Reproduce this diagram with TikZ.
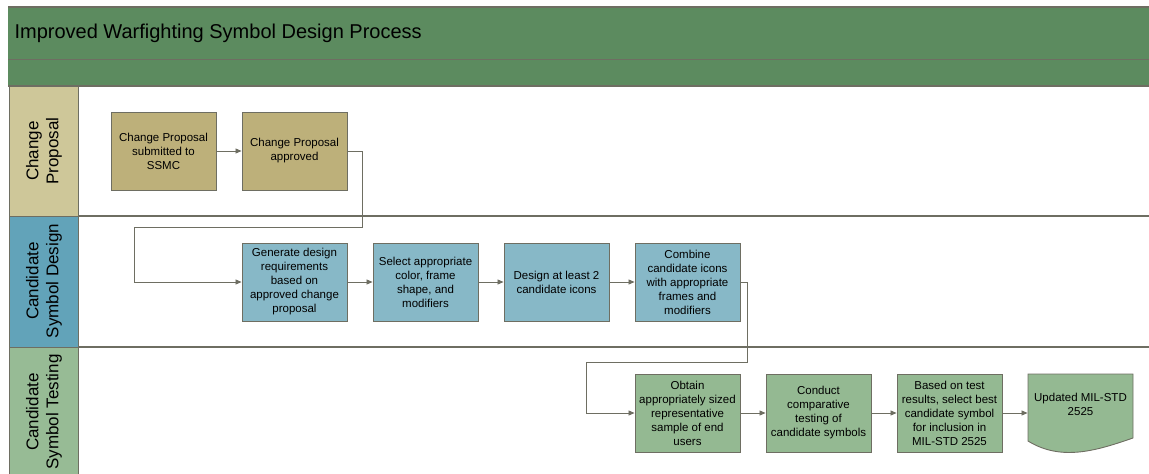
\documentclass[tikz,border=0pt]{standalone}
\usepackage{fontspec}
\setmainfont{Liberation Sans}
\usetikzlibrary{arrows.meta}

\definecolor{hdrgreen}{HTML}{5C8B5F}
\definecolor{lanetan}{HTML}{CEC799}
\definecolor{boxtan}{HTML}{BDB07A}
\definecolor{laneblue}{HTML}{62A3B9}
\definecolor{boxblue}{HTML}{87B8C7}
\definecolor{lanegreen}{HTML}{97BB95}
\definecolor{boxgreen}{HTML}{94B992}
\definecolor{rulegray}{HTML}{6E6E62}

\tikzset{
  procbox/.style={draw=rulegray, line width=0.9pt, minimum width=105pt, minimum height=78pt,
    inner sep=1pt, align=center, font=\fontsize{11.5}{14}\selectfont},
  cpbox/.style={procbox, fill=boxtan},
  designbox/.style={procbox, fill=boxblue},
  testbox/.style={procbox, fill=boxgreen},
  lanetext/.style={rotate=90, align=center, font=\fontsize{17}{20}\selectfont},
  flow/.style={draw=rulegray, line width=0.8pt, -{Triangle[length=6pt,width=5pt]}},
}

\begin{document}
\begin{tikzpicture}[x=1pt, y=-1pt]
    \useasboundingbox (0,0) rectangle (1149,474);
    \clip (0,0) rectangle (1149,474);

    % header
    \fill[hdrgreen] (8,7) rectangle (1160,86);
    \draw[rulegray, line width=1.4pt] (8,7) -- (1160,7);
    \draw[rulegray, line width=1pt] (8,59) -- (1160,59);
    \draw[rulegray, line width=1.4pt] (8,86) -- (1160,86);
    \node[anchor=west, font=\fontsize{20}{24}\selectfont] (title) at (11,33) {Improved Warfighting Symbol Design Process};

    % lanes
    \filldraw[fill=lanetan, draw=rulegray, line width=1pt] (9,86) rectangle (78,216);
    \filldraw[fill=laneblue, draw=rulegray, line width=1pt] (9,216) rectangle (78,347);
    \filldraw[fill=lanegreen, draw=rulegray, line width=1pt] (9,347) rectangle (78,478);
    \foreach \y in {216, 347} {
        \draw[rulegray, line width=1.2pt] (78,\y) -- (1160,\y);
    }
    \node[lanetext] (lanecp) at (44,151) {Change\\Proposal};
    \node[lanetext] (lanedes) at (44,281) {Candidate\\Symbol Design};
    \node[lanetext] (lanetest) at (44,412) {Candidate\\Symbol Testing};

    % change proposal
    \node[cpbox] (submit) at (163.5,151) {Change Proposal\\submitted to\\SSMC};
    \node[cpbox] (approve) at (294.5,151) {Change Proposal\\approved};

    % candidate symbol design
    \node[designbox] (genreq) at (294.5,282) {Generate design\\requirements\\based on\\approved change\\proposal};
    \node[designbox] (selframe) at (425.5,282) {Select appropriate\\color, frame\\shape, and\\modifiers};
    \node[designbox] (design) at (556.5,282) {Design at least 2\\candidate icons};
    \node[designbox] (combine) at (687.5,282) {Combine\\candidate icons\\with appropriate\\frames and\\modifiers};

    % candidate symbol testing
    \node[testbox] (sample) at (687.5,413) {Obtain\\appropriately sized\\representative\\sample of end\\users};
    \node[testbox] (compare) at (818.5,413) {Conduct\\comparative\\testing of\\candidate symbols};
    \node[testbox] (select) at (949.5,413) {Based on test\\results, select best\\candidate symbol\\for inclusion in\\MIL-STD 2525};
    \filldraw[fill=boxgreen, draw=rulegray, line width=0.9pt]
        (1028,374) -- (1133,374) -- (1133,438)
        .. controls (1098,450) and (1062,462) .. (1028,441) -- cycle;
    \node[procbox, draw=none] (update) at (1080.5,413) {};
    \node[align=center, font=\fontsize{11.5}{14}\selectfont] (updtext) at (1080.5,404) {Updated MIL-STD\\2525};

    % connectors
    \draw[flow] (submit) -- (approve);
    \draw[flow] (approve.east) -- ++(15,0) |- (134,227) |- (genreq.west);
    \draw[flow] (genreq) -- (selframe);
    \draw[flow] (selframe) -- (design);
    \draw[flow] (design) -- (combine);
    \draw[flow] (combine.east) -- ++(7,0) |- (586,362) |- (sample.west);
    \draw[flow] (sample) -- (compare);
    \draw[flow] (compare) -- (select);
    \draw[flow] (select.east) -- (update.west);
\end{tikzpicture}
\end{document}
